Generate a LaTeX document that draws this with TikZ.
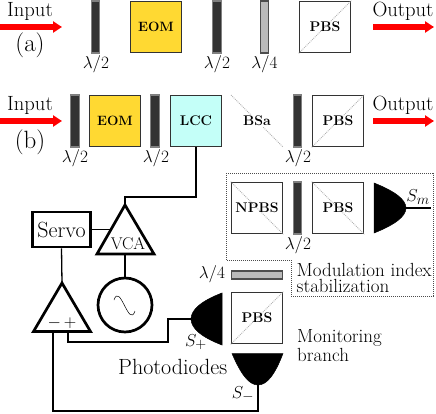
\documentclass[tikz,border=0pt]{standalone}
\usetikzlibrary{arrows.meta,calc}
\tikzset{
 x=1pt,y=-1pt,
 lab/.style={inner sep=0pt,font=\fontsize{19}{19}\selectfont},
 biglab/.style={inner sep=0pt,font=\fontsize{20.6}{20.6}\selectfont},
 hugelab/.style={inner sep=0pt,font=\fontsize{22}{22}\selectfont},
 boldlab/.style={font=\fontsize{14}{14}\selectfont\bfseries},
 hwp/.style={draw=black!50,line width=1.2pt,fill=black!80,minimum width=8.5pt,minimum height=52pt,inner sep=0pt},
 qwp/.style={draw=black!70,line width=1.3pt,fill=black!27,minimum width=8.5pt,minimum height=52pt,inner sep=0pt},
 cube/.style={draw=black!80,line width=1.6pt,minimum width=51pt,minimum height=51pt,inner sep=0pt,boldlab},
 eom/.style={cube,fill=eomc,font=\fontsize{13.5}{13.5}\selectfont\bfseries},
 lcc/.style={cube,fill=lccc},
 diag/.style={draw=black!30,line width=0.9pt,densely dotted},
 beam/.style={draw=red,line width=6.5pt,-{Triangle[length=9pt,width=11pt]}},
 wire/.style={draw=black,line width=1.3pt},
 thick box/.style={draw=black,line width=2.7pt},
 pd/.style={fill=black,draw=black,line width=0.5pt},
}
\definecolor{eomc}{HTML}{FFD932}
\definecolor{lccc}{HTML}{C4FFF8}
\begin{document}
\begin{tikzpicture}
\useasboundingbox (0,0) rectangle (436,414);
% row a
\coordinate (ia) at (0,27); \coordinate (iae) at (62,27);
\coordinate (oa) at (373,27); \coordinate (oae) at (434,27);
\draw[beam] (ia) -- (iae);
\draw[beam] (oa) -- (oae);
\node[biglab] (tia) at (30,11) {Input};
\node[hugelab,font=\fontsize{25}{25}\selectfont] (ta) at (30,45) {(a)};
\node[biglab] (toa) at (403,11) {Output};
\node[hwp] (a1) at (95.5,27) {};
\node[eom] (a2) at (156,27) {EOM};
\node[hwp] (a3) at (217,27) {};
\node[qwp] (a4) at (264.5,27) {};
\node[cube] (a5) at (325,27) {};
\draw[diag] (a5.south west) -- (a5.north east);
\node[boldlab] (a5t) at (a5) {PBS};
\node[lab] (la1) at (96,64) {$\lambda/2$};
\node[lab] (la3) at (217,64) {$\lambda/2$};
\node[lab] (la4) at (264.5,64) {$\lambda/4$};
% row b
\coordinate (ib) at (0,121); \coordinate (ibe) at (62,121);
\coordinate (ob) at (373,121); \coordinate (obe) at (434,121);
\draw[beam] (ib) -- (ibe);
\draw[beam] (ob) -- (obe);
\node[biglab] (tib) at (30,105) {Input};
\node[hugelab,font=\fontsize{25}{25}\selectfont] (tb) at (30,142) {(b)};
\node[biglab] (tob) at (403,105) {Output};
\node[hwp] (b1) at (75,121) {};
\node[eom] (b2) at (115,121) {EOM};
\node[hwp] (b3) at (155,121) {};
\node[lcc] (b4) at (196,121) {LCC};
\coordinate (bsa1) at (231,95); \coordinate (bsa2) at (283,147);
\draw[diag] (bsa1) -- (bsa2);
\node[boldlab,fill=white,inner sep=1pt] (bsa) at (257,121) {BSa};
\node[hwp] (b5) at (297.5,121) {};
\node[cube] (b6) at (338,121) {};
\draw[diag] (b6.south west) -- (b6.north east);
\node[boldlab] (b6t) at (b6) {PBS};
\node[lab] (lb1) at (75,158) {$\lambda/2$};
\node[lab] (lb3) at (156,158) {$\lambda/2$};
\node[lab] (lb5) at (298,158) {$\lambda/2$};
% modulation box
\coordinate (m1) at (226,174); \coordinate (m2) at (433,174); \coordinate (m3) at (433,296);
\coordinate (m4) at (291,296); \coordinate (m5) at (291,260); \coordinate (m6) at (226,260);
\draw[draw=black!70,line width=1pt,densely dotted] (m1) -- (m2) -- (m3) -- (m4) -- (m5) -- (m6) -- cycle;
\node[cube] (n1) at (257,208) {};
\draw[diag] (n1.north west) -- (n1.south east);
\node[boldlab] (n1t) at (n1) {NPBS};
\node[hwp] (n2) at (297.5,208) {};
\node[cube] (n3) at (338,208) {};
\draw[diag] (n3.north west) -- (n3.south east);
\node[boldlab] (n3t) at (n3) {PBS};
\node[lab] (ln2) at (298,245) {$\lambda/2$};
\coordinate (smf1) at (374,183); \coordinate (smf2) at (374,233); \coordinate (smt) at (406,208); \coordinate (sme) at (431,208);
\fill[pd] (smf1) .. controls (395,191.3) and (406,199.7) .. (smt) .. controls (406,216.3) and (395,224.7) .. (smf2) -- cycle;
\draw[wire] (smt) -- (sme);
\node[lab] (tsm) at (418,197) {$S_m$};
\node[lab,anchor=west] (tmod) at (296.5,270) {Modulation index};
\node[lab,anchor=west] (tsta) at (296.5,286) {stabilization};
% monitoring
\node[qwp,minimum width=51pt,minimum height=8pt] (q) at (257,275) {};
\node[lab] (lq) at (212,274) {$\lambda/4$};
\node[cube] (p) at (257,318) {};
\draw[diag] (p.south west) -- (p.north east);
\node[boldlab] (pt) at (p) {PBS};
\node[lab,anchor=west] (tmon) at (297,338) {Monitoring};
\node[lab,anchor=west] (tbra) at (297,355) {branch};
\node[hugelab,anchor=west] (tpho) at (118,367) {Photodiodes};
\coordinate (spt) at (191,319); \coordinate (spf1) at (222,293); \coordinate (spf2) at (222,345);
\fill[pd] (spf1) .. controls (201,301) and (191,310) .. (spt) .. controls (191,328) and (201,337) .. (spf2) -- cycle;
\coordinate (smnt) at (258,385); \coordinate (smf3) at (232,353.5); \coordinate (smf4) at (283,353.5);
\fill[pd] (smf3) .. controls (241,374.5) and (249,385) .. (smnt) .. controls (267,385) and (275,374.5) .. (smf4) -- cycle;
\node[lab] (tsp) at (196,342) {$S_+$};
\node[lab] (tsn) at (243,394) {$S_-$};
% electronics
\coordinate (va) at (125,205); \coordinate (vl) at (97,254); \coordinate (vr) at (154,254);
\draw[thick box,line join=miter] (va) -- (vr) -- (vl) -- cycle;
\node[lab,font=\fontsize{17}{17}\selectfont] (tvca) at (128,244) {VCA};
\node[thick box,minimum width=58pt,minimum height=35pt,inner sep=0pt,font=\fontsize{22}{22}\selectfont] (servo) at (61.5,229.5) {Servo};
\coordinate (vs) at (110,229.5);
\coordinate (vb) at (125,254.5);
\node[thick box,circle,minimum size=54pt,inner sep=0pt] (osc) at (125,305) {};
\coordinate (s1) at (114,300); \coordinate (s2) at (135,311);
\draw[line width=0.5pt] (s1) .. controls (120,282) and (129,329) .. (s2);
\coordinate (aa) at (62,283); \coordinate (al) at (33.5,331.5); \coordinate (ar) at (90.5,331.5);
\draw[thick box,line join=miter] (aa) -- (ar) -- (al) -- cycle;
\node[lab,font=\fontsize{16}{16}\selectfont] (tamp) at (62,323) {$-\,+$};
\coordinate (am) at (53,332); \coordinate (ap) at (68,332);
\draw[wire] (b4.south) |- (125,197) -- (va);
\draw[wire] (servo.east) -- (vs);
\draw[wire] (vb) -- (osc.north);
\draw[wire] (servo.south) -- (aa);
\draw[wire] (ap) -- (68,342) -- (168,342) -- (168,319) -- (spt);
\draw[wire] (am) -- (53,411) -- (258,411) -- (smnt);
\end{tikzpicture}
\end{document}
